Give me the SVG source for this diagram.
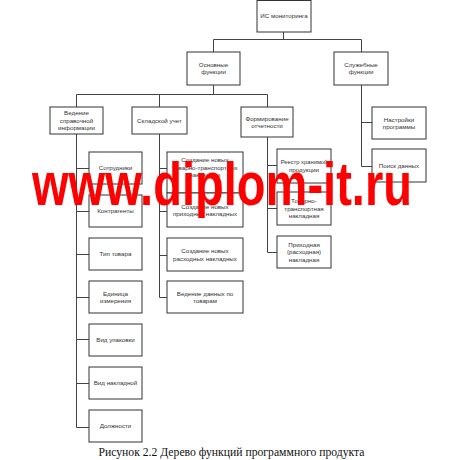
<svg xmlns="http://www.w3.org/2000/svg" width="453" height="460" viewBox="0 0 453 460">
<style>
.b{fill:#fff;stroke:#333;stroke-width:1}
.t{font-family:"Liberation Sans",Arial,sans-serif;font-size:6.2px;fill:#333;text-anchor:middle}
.c{fill:none;stroke:#444;stroke-width:1}
</style>
<rect width="453" height="460" fill="#fff"/>
<g id="connectors">
<path class="c" d="M283.5 32V39.5M213.5 39.5H361.5M213.5 39.5V52M361.5 39.5V52"/>
<path class="c" d="M213.5 85V94.5M76.5 94.5H267.5M76.5 94.5V107M159.5 94.5V107M267.5 94.5V107"/>
<path class="c" d="M361.5 85V166.5H372M361.5 122.5H372"/>
<path class="c" d="M76.5 134V427.5H89M76.5 168.5H89M76.5 211.5H89M76.5 254.5H89M76.5 297.5H89M76.5 339.5H89M76.5 383.5H89"/>
<path class="c" d="M159.5 134V297.5H167M159.5 168.5H167M159.5 211.5H167M159.5 255.5H167"/>
<path class="c" d="M267.5 137V252.5H277M267.5 165.5H277M267.5 208.5H277"/>
</g>
<g id="n-root"><rect class="b" x="257" y="0.5" width="54" height="31.5"/><text class="t" x="284" y="18.2">ИС  мониторинга</text></g>
<g id="n-osn"><rect class="b" x="187" y="52" width="53" height="33"/><text class="t" x="213.5" y="66.9">Основные</text><text class="t" x="213.5" y="74.4">функции</text></g>
<g id="n-sl"><rect class="b" x="334" y="52" width="54" height="33"/><text class="t" x="361" y="66.9">Служебные</text><text class="t" x="361" y="74.4">функции</text></g>
<g id="n-ved"><rect class="b" x="50" y="107" width="53" height="27"/><text class="t" x="76.5" y="115.2">Ведение</text><text class="t" x="76.5" y="122.7">справочной</text><text class="t" x="76.5" y="130.2">информации</text></g>
<g id="n-skl"><rect class="b" x="132" y="107" width="55" height="27"/><text class="t" x="159.5" y="122.7">Складской учет</text></g>
<g id="n-form"><rect class="b" x="241" y="107" width="52" height="30"/><text class="t" x="267" y="120.5">Формирование</text><text class="t" x="267" y="128">отчетности</text></g>
<g id="n-nast"><rect class="b" x="372" y="107" width="54" height="32"/><text class="t" x="399" y="121.5">Настройки</text><text class="t" x="399" y="129">программы</text></g>
<g id="n-poisk"><rect class="b" x="372" y="149" width="54" height="33"/><text class="t" x="399" y="167.7">Поиск данных</text></g>
<g id="n-sotr"><rect class="b" x="89" y="152" width="53" height="32"/><text class="t" x="115.5" y="170.2">Сотрудники</text></g>
<g id="n-kontr"><rect class="b" x="89" y="195" width="53" height="32"/><text class="t" x="115.5" y="213.2">Контрагенты</text></g>
<g id="n-tip"><rect class="b" x="89" y="238" width="53" height="32"/><text class="t" x="115.5" y="256.2">Тип товара</text></g>
<g id="n-ed"><rect class="b" x="89" y="281" width="53" height="32"/><text class="t" x="115.5" y="295.5">Единица</text><text class="t" x="115.5" y="303">измерения</text></g>
<g id="n-upak"><rect class="b" x="89" y="324" width="53" height="32"/><text class="t" x="115.5" y="342.2">Вид упаковки</text></g>
<g id="n-vnak"><rect class="b" x="89" y="367" width="53" height="32"/><text class="t" x="115.5" y="385.2">Вид накладной</text></g>
<g id="n-dolzh"><rect class="b" x="89" y="410" width="53" height="32"/><text class="t" x="115.5" y="428.2">Должности</text></g>
<g id="n-ttn"><rect class="b" x="167" y="152" width="76" height="41"/><text class="t" x="205" y="162">Создание новых</text><text class="t" x="205" y="169.5">товарно-транспортных</text><text class="t" x="205" y="177">накладных</text></g>
<g id="n-prih"><rect class="b" x="167" y="193" width="76" height="34"/><text class="t" x="205" y="208.7">Создание новых</text><text class="t" x="205" y="216.2">приходных накладных</text></g>
<g id="n-rash"><rect class="b" x="167" y="238" width="76" height="33"/><text class="t" x="205" y="253">Создание новых</text><text class="t" x="205" y="260.5">расходных накладных</text></g>
<g id="n-vdt"><rect class="b" x="167" y="281" width="76" height="32"/><text class="t" x="205" y="295.5">Ведение данных по</text><text class="t" x="205" y="303">товарам</text></g>
<g id="n-reestr"><rect class="b" x="277" y="149" width="54" height="34"/><text class="t" x="304" y="164" style="font-size:5.8px">Реестр хранимой</text><text class="t" x="304" y="171.5">продукции</text></g>
<g id="n-tovtr"><rect class="b" x="277" y="192" width="54" height="33"/><text class="t" x="304" y="203.2">Товарно-</text><text class="t" x="304" y="210.7">транспортная</text><text class="t" x="304" y="218.2">накладная</text></g>
<g id="n-prihn"><rect class="b" x="277" y="236" width="54" height="32"/><text class="t" x="304" y="246.7">Приходная</text><text class="t" x="304" y="254.2">(расходная)</text><text class="t" x="304" y="261.7">накладная</text></g>
<text x="32" y="205" font-family="Liberation Sans,Arial,sans-serif" font-weight="bold" font-size="62" fill="#f00" textLength="380" lengthAdjust="spacingAndGlyphs">www.diplom-it.ru</text>
<text x="231.5" y="456" font-family="Liberation Serif,Times New Roman,serif" font-size="11.5" fill="#111" text-anchor="middle" textLength="266" lengthAdjust="spacingAndGlyphs">Рисунок 2.2 Дерево функций программного продукта</text>
</svg>
